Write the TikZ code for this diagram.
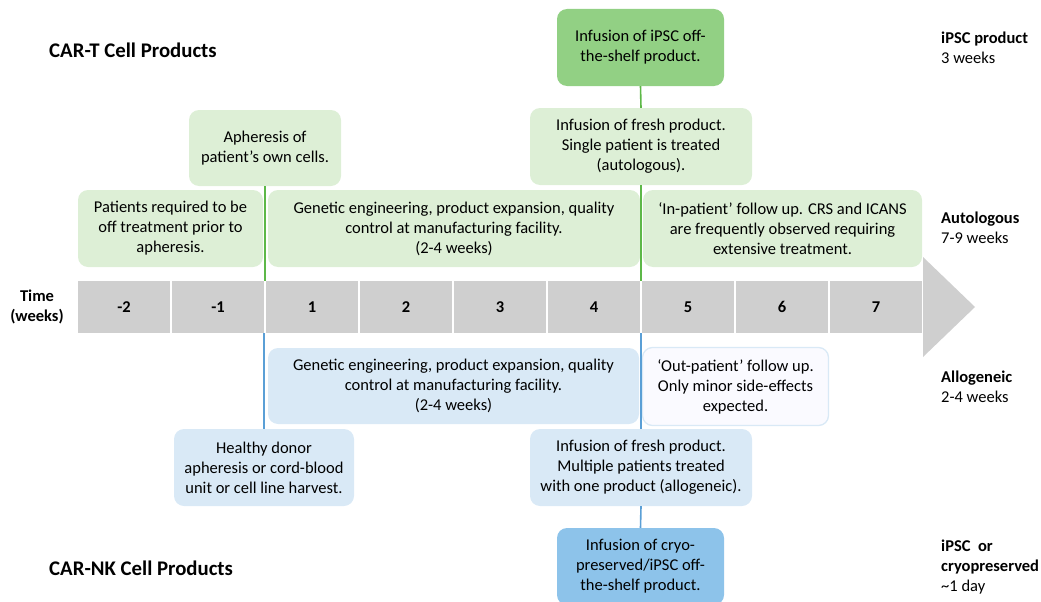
\documentclass[tikz,border=0pt]{standalone}
\usepackage{fontspec}
\setmainfont{Carlito}
\usepackage{xcolor}
\usepackage{tikz}

\definecolor{lgreen}{HTML}{DDEFD6}
\definecolor{dgreen}{HTML}{92D084}
\definecolor{glinec}{HTML}{5DB848}
\definecolor{lblue}{HTML}{D9E9F6}
\definecolor{dblue}{HTML}{8DC3EA}
\definecolor{blinec}{HTML}{5A9FD6}
\definecolor{cellgray}{HTML}{CFCFCF}

\tikzset{
  every node/.style={font=\fontsize{16.5}{20}\selectfont},
  box/.style={rounded corners=10pt, align=center, inner sep=2pt},
  gbox/.style={box, fill=lgreen},
  gdark/.style={box, fill=dgreen},
  bbox/.style={box, fill=lblue},
  bdark/.style={box, fill=dblue},
  outbox/.style={box, fill=blue!2, draw=lblue, line width=1.3pt},
  cell/.style={fill=cellgray, minimum width=92pt, minimum height=52pt,
    inner sep=0pt, font=\fontsize{16.5}{20}\selectfont\bfseries},
  sidelab/.style={anchor=west, align=left, inner sep=0pt},
  heading/.style={anchor=west, inner sep=0pt, font=\fontsize{20.8}{25}\selectfont\bfseries},
  gline/.style={draw=glinec, line width=1.6pt},
  bline/.style={draw=blinec, line width=1.6pt}
}

\begin{document}
\begin{tikzpicture}[x=1pt,y=-1pt]
\useasboundingbox (0,0) rectangle (1041,602);

    % timeline
    \foreach \lab [count=\i] in {-2,-1,1,2,3,4,5,6,7}
      \node[cell] (c\i) at ({77+94*(\i-0.5)},307) {\lab};
    \fill[cellgray] (923,257) -- (975,307) -- (923,357) -- cycle;
    \node[align=center, inner sep=0pt, font=\fontsize{16.5}{20}\selectfont\bfseries] (time) at (37,307) {Time\\(weeks)};

    % CAR-T side
    \node[heading] (cart) at (49,50) {CAR-T Cell Products};
    \node[gbox, minimum width=185pt, minimum height=77pt] (pre) at (170.5,228.5)
      {Patients required to be\\off treatment prior to\\apheresis.};
    \node[gbox, minimum width=372pt, minimum height=77pt] (gen) at (454,228.5)
      {Genetic engineering, product expansion, quality\\control at manufacturing facility.\\(2-4 weeks)};
    \node[gbox, minimum width=279pt, minimum height=77pt] (inpat) at (782.5,228.5)
      {`In-patient' follow up. CRS and ICANS\\are frequently observed requiring\\extensive treatment.};
    \node[gbox, minimum width=152pt, minimum height=76pt] (aph) at (265,148)
      {Apheresis of\\patient's own cells.};
    \node[gbox, minimum width=222pt, minimum height=77pt] (fresh) at (641,146.5)
      {Infusion of fresh product.\\Single patient is treated\\(autologous).};
    \node[gdark, minimum width=167pt, minimum height=77pt] (ipsc) at (640.5,47.5)
      {Infusion of iPSC off-\\the-shelf product.};

    \draw[gline] (aph.south) -- (aph.south |- c3.north);
    \draw[gline] (ipsc.south) -- (fresh.north);
    \draw[gline] (fresh.south) -- (fresh.south |- c7.north);

    % CAR-NK side
    \node[heading] (carnk) at (49,568) {CAR-NK Cell Products};
    \node[bbox, minimum width=371pt, minimum height=76pt] (bgen) at (453.5,386)
      {Genetic engineering, product expansion, quality\\control at manufacturing facility.\\(2-4 weeks)};
    \node[outbox, minimum width=186pt, minimum height=78pt] (outpat) at (735.5,386.5)
      {`Out-patient' follow up.\\Only minor side-effects\\expected.};
    \node[bbox, minimum width=180pt, minimum height=77pt] (donor) at (264,467.5)
      {Healthy donor\\apheresis or cord-blood\\unit or cell line harvest.};
    \node[bbox, minimum width=222pt, minimum height=77pt] (multi) at (641,467.5)
      {Infusion of fresh product.\\Multiple patients treated\\with one product (allogeneic).};
    \node[bdark, minimum width=167pt, minimum height=77pt] (cryo) at (640.5,566.5)
      {Infusion of cryo-\\preserved/iPSC off-\\the-shelf product.};

    \draw[bline] (donor.north) -- (donor.north |- c3.south);
    \draw[bline] (multi.north) -- (multi.north |- c7.south);
    \draw[bline] (multi.south) -- (cryo.north);

    % right side labels
    \node[sidelab] (lipsc) at (941,48) {\textbf{iPSC product}\\3 weeks};
    \node[sidelab] (lauto) at (941,228) {\textbf{Autologous}\\7-9 weeks};
    \node[sidelab] (lallo) at (941,386.5) {\textbf{Allogeneic}\\2-4 weeks};
    \node[sidelab] (lcryo) at (941,567) {\textbf{iPSC~ or}\\\textbf{cryopreserved}\\\textasciitilde1 day};

\end{tikzpicture}
\end{document}
